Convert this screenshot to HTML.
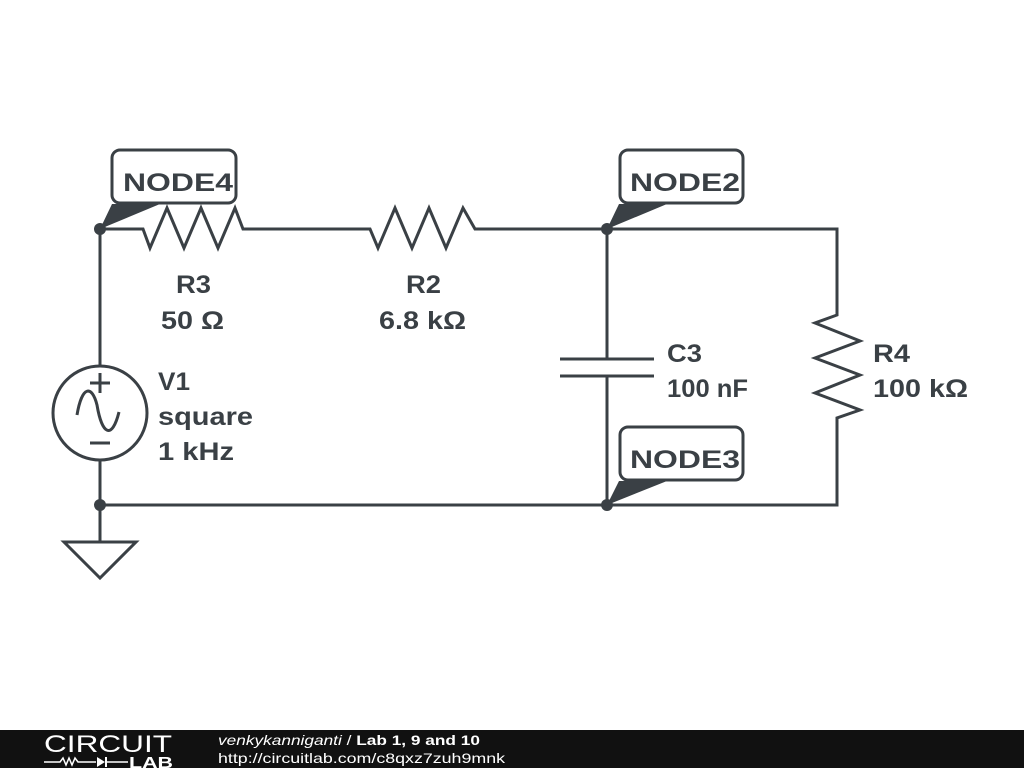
<!DOCTYPE html>
<html><head><meta charset="utf-8"><style>
body{margin:0;width:1024px;height:768px;background:#fff;overflow:hidden;font-family:"Liberation Sans",sans-serif}
text{font-family:"Liberation Sans",Arial,sans-serif}
</style></head><body>
<svg width="1024" height="768" viewBox="0 0 1024 768" xmlns="http://www.w3.org/2000/svg">
<g fill="none" stroke="#3a4045" stroke-width="3" stroke-linejoin="miter">
<polyline points="100,366 100,229 143,229 150,248 167,208 184,248 201,208 218,248 235,208 243,229 370,229 378,248 395,208 412,248 429,208 446,248 463,208 475,229 837,229 837,315 815,323 860,341 815,358 860,375 815,393 860,410 837,418 837,505 100,505 100,460"/>
<line x1="607" y1="229" x2="607" y2="359"/>
<line x1="607" y1="376" x2="607" y2="505"/>
<line x1="560" y1="359" x2="654" y2="359"/>
<line x1="560" y1="376" x2="654" y2="376"/>
<circle cx="100" cy="413" r="47"/>
<line x1="100" y1="505" x2="100" y2="542"/>
<polygon points="64,542 136,542 100,578"/>
<line x1="90" y1="383" x2="110" y2="383"/><line x1="100" y1="373" x2="100" y2="393"/>
<line x1="90" y1="443" x2="110" y2="443"/>
<path d="M77,415 C82,385 92,385 97,405 C102,435 112,440 119,412"/>
<rect x="112" y="150" width="124" height="53" rx="8"/>
<rect x="620" y="150" width="123" height="53" rx="8"/>
<rect x="620" y="427" width="123" height="53" rx="8"/>
</g>
<g fill="#3a4045">
<circle cx="100" cy="229" r="6"/><circle cx="607" cy="229" r="6"/><circle cx="607" cy="505" r="6"/><circle cx="100" cy="505" r="6"/>
<polygon points="100,229 112,204 160,204"/>
<polygon points="607,229 619,204 667,204"/>
<polygon points="607,505 619,481 667,481"/>
</g>
<g fill="#3a4045" font-weight="bold" font-size="25">
<text x="123" y="191" textLength="110" lengthAdjust="spacingAndGlyphs">NODE4</text>
<text x="630" y="191" textLength="110" lengthAdjust="spacingAndGlyphs">NODE2</text>
<text x="630" y="468" textLength="110" lengthAdjust="spacingAndGlyphs">NODE3</text>
<text x="176" y="293" textLength="35" lengthAdjust="spacingAndGlyphs">R3</text>
<text x="161" y="329" textLength="63" lengthAdjust="spacingAndGlyphs">50 Ω</text>
<text x="406" y="293" textLength="35" lengthAdjust="spacingAndGlyphs">R2</text>
<text x="379" y="329" textLength="87" lengthAdjust="spacingAndGlyphs">6.8 kΩ</text>
<text x="667" y="362" textLength="35" lengthAdjust="spacingAndGlyphs">C3</text>
<text x="667" y="397" textLength="81" lengthAdjust="spacingAndGlyphs">100 nF</text>
<text x="873" y="362" textLength="37" lengthAdjust="spacingAndGlyphs">R4</text>
<text x="873" y="397" textLength="95" lengthAdjust="spacingAndGlyphs">100 kΩ</text>
<text x="158" y="390" textLength="32" lengthAdjust="spacingAndGlyphs">V1</text>
<text x="158" y="425" textLength="95" lengthAdjust="spacingAndGlyphs">square</text>
<text x="158" y="460" textLength="76" lengthAdjust="spacingAndGlyphs">1 kHz</text>
</g>
<rect x="0" y="730" width="1024" height="38" fill="#111"/>
<text x="44" y="752" fill="#fff" font-size="24" textLength="128" lengthAdjust="spacingAndGlyphs">CIRCUIT</text>
<polyline points="44,762 60,762 63,758 66,765 69,758 72,765 75,758 78,762 96,762" fill="none" stroke="#fff" stroke-width="1.5"/>
<polygon points="97,757 97,767 105,762" fill="#fff"/><line x1="106" y1="757" x2="106" y2="767" stroke="#fff" stroke-width="2"/>
<line x1="106" y1="762" x2="128" y2="762" stroke="#fff" stroke-width="1.5"/>
<text x="129" y="768" fill="#fff" font-size="16" font-weight="bold" textLength="44" lengthAdjust="spacingAndGlyphs">LAB</text>
<text x="218" y="745" fill="#fff" font-size="14" textLength="262" lengthAdjust="spacingAndGlyphs"><tspan font-style="italic">venkykanniganti</tspan> / <tspan font-weight="bold">Lab 1, 9 and 10</tspan></text>
<text x="218" y="763" fill="#fff" font-size="14" textLength="287" lengthAdjust="spacingAndGlyphs">http://circuitlab.com/c8qxz7zuh9mnk</text>
</svg>
</body></html>
